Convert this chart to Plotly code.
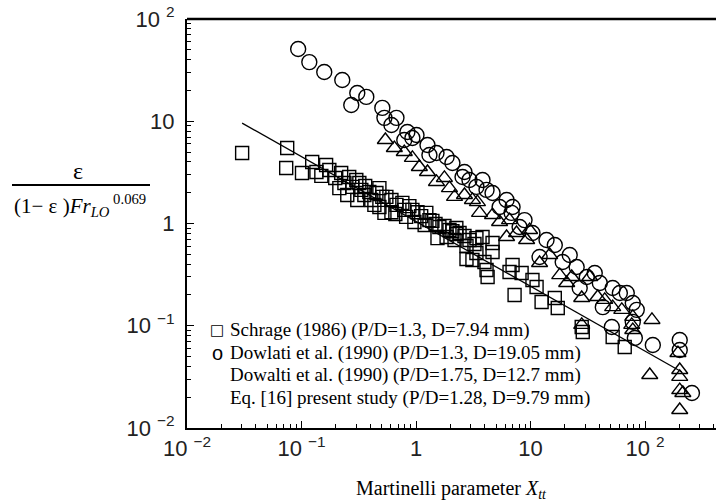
import plotly.graph_objects as go

# Schrage (1986) (P/D=1.3, D=7.94 mm) - squares
sq_x = [0.0303, 0.075, 0.0735, 0.101, 0.124, 0.135, 0.149, 0.164, 0.175, 0.197,
        0.222, 0.237, 0.261, 0.214, 0.278, 0.301, 0.32, 0.333, 0.307, 0.36,
        0.391, 0.451, 0.479, 0.508, 0.551, 0.479, 0.53, 0.61, 0.675, 0.76,
        0.79, 0.875, 0.93, 0.82, 1.03, 1.11, 1.23, 1.31, 1.39, 1.48,
        1.60, 1.77, 1.54, 1.96, 2.08, 2.25, 2.40, 2.65, 2.93, 3.37,
        3.11, 3.81, 3.24, 4.66, 4.66, 4.13, 4.22, 3.96, 6.56, 8.36,
        10.4, 11.3, 7.26, 12.5, 16.3, 17.3, 28.0, 28.6, 52.2, 66.5,
        0.66, 0.968, 0.251, 0.407, 1.19, 2.17, 2.76, 2.76, 3.37, 2.25,
        0.433, 0.61, 0.354, 1.85, 6.97]
sq_y = [4.89, 5.47, 3.49, 3.12, 3.99, 3.19, 2.92, 3.73, 3.34, 2.79,
        3.12, 2.49, 2.85, 2.22, 2.28, 2.66, 2.49, 2.13, 1.70, 2.33,
        2.03, 1.99, 2.22, 1.82, 1.82, 1.45, 1.27, 1.70, 1.52, 1.59,
        1.36, 1.48, 1.36, 1.16, 1.29, 1.18, 1.27, 1.08, 1.06, 0.99,
        0.925, 0.946, 0.72, 0.863, 0.84, 0.789, 0.807, 0.755, 0.69, 0.72,
        0.44, 0.738, 0.63, 0.644, 0.526, 0.351, 0.30, 0.42, 0.336, 0.328,
        0.28, 0.239, 0.20, 0.171, 0.187, 0.149, 0.0973, 0.0869, 0.0776, 0.0619,
        1.24, 1.035, 1.90, 1.70, 0.966, 0.69, 0.603, 0.45, 0.514, 0.904,
        1.52, 1.29, 1.90, 0.738, 0.393]

# Dowlati et al. (1990) (P/D=1.3, D=19.05 mm) - circles
ci_x = [0.0935, 0.117, 0.158, 0.227, 0.307, 0.368, 0.272, 0.508, 0.53, 0.675,
        0.61, 0.841, 1.01, 0.93, 1.26, 1.51, 1.85, 2.08, 2.65, 2.55,
        3.37, 4.13, 4.66, 5.37, 6.97, 6.84, 8.03, 10.4, 13.8, 12.0,
        19.1, 25.3, 31.0, 40.3, 52.2, 69.3, 26.9, 51.3, 78.2, 84.7,
        78.2, 81.5, 117, 201, 201, 257, 42.8, 0.79, 1.31, 2.93,
        8.87, 16.3, 22.0, 36.4, 60.3, 6.18, 3.81]
ci_y = [50.9, 37.9, 30.3, 25.3, 18.9, 17.3, 14.4, 13.5, 10.8, 10.8,
        9.19, 7.85, 7.34, 6.86, 5.86, 4.89, 4.47, 3.91, 3.19, 2.85,
        2.28, 2.13, 1.99, 1.45, 1.45, 1.27, 0.925, 0.807, 0.69, 0.47,
        0.42, 0.376, 0.30, 0.262, 0.234, 0.209, 0.234, 0.0973, 0.167, 0.143,
        0.109, 0.0759, 0.0649, 0.0726, 0.058, 0.022, 0.152, 6.56, 4.68, 2.66,
        1.08, 0.617, 0.492, 0.328, 0.209, 1.70, 2.66]

# Dowalti et al. (1990) (P/D=1.75, D=12.7 mm) - triangles
tr_x = [0.54, 0.647, 0.79, 0.93, 1.07, 1.26, 1.51, 1.96, 2.17, 1.77,
        3.11, 3.59, 4.66, 6.56, 7.55, 3.44, 6.18, 12.0, 18.0, 22.9,
        32.9, 28.0, 38.6, 52.2, 62.7, 78.2, 115, 76.6, 28.0, 110,
        201, 201, 201, 201, 214, 194, 78.2, 2.65, 5.37, 9.25,
        14.7, 20.7, 44.5, 9.82]
tr_y = [6.56, 5.47, 5.0, 4.38, 3.57, 3.19, 2.55, 2.22, 1.82, 2.79,
        1.70, 1.27, 1.21, 1.08, 0.807, 1.62, 0.738, 0.411, 0.313, 0.30,
        0.30, 0.187, 0.191, 0.152, 0.143, 0.122, 0.114, 0.102, 0.102, 0.033,
        0.0369, 0.0316, 0.0235, 0.015, 0.022, 0.0541, 0.0908, 1.90, 1.035, 0.69,
        0.492, 0.262, 0.179, 0.863]

# Eq. [16] present study - straight line endpoints
line_x = [0.0303, 210]
line_y = [9.6, 0.0353]

x_tickvals = [0.01, 0.1, 1, 10, 100]
x_ticktext = ["10 <sup>\u22122</sup>", "10 <sup>\u22121</sup>", "1", "10", "10 <sup>2</sup>"]
y_tickvals = [0.01, 0.1, 1, 10, 100]
y_ticktext = ["10 <sup>\u22122</sup>", "10 <sup>\u22121</sup>", "1", "10", "10 <sup>2</sup>"]

legend_lines = [
    "Schrage (1986) (P/D=1.3, D=7.94 mm)",
    "Dowlati et al. (1990) (P/D=1.3, D=19.05 mm)",
    "Dowalti et al. (1990) (P/D=1.75, D=12.7 mm)",
    "Eq. [16] present study (P/D=1.28, D=9.79 mm)",
]

# minor tick positions (2..9 within each decade)
minor_vals = [m * d for d in (0.01, 0.1, 1, 10, 100) for m in range(2, 10)]

W, H = 716, 504
L, T = 187, 19
BOT, RIGHT = 428, 716
B, R = H - BOT, W - RIGHT
pw, ph = RIGHT - L, BOT - T

def px(xp):
    return (xp - L) / pw

def py(yp):
    return (BOT - yp) / ph

fig = go.Figure()
fig.add_trace(go.Scatter(x=line_x, y=line_y, mode="lines",
                         line=dict(color="black", width=1.3), showlegend=False))
fig.add_trace(go.Scatter(x=sq_x, y=sq_y, mode="markers",
                         marker=dict(symbol="square-open", size=13, color="black",
                                     line=dict(width=1.4)), showlegend=False))
fig.add_trace(go.Scatter(x=ci_x, y=ci_y, mode="markers",
                         marker=dict(symbol="circle-open", size=15, color="black",
                                     line=dict(width=1.4)), showlegend=False))
fig.add_trace(go.Scatter(x=tr_x, y=tr_y, mode="markers",
                         marker=dict(symbol="triangle-up-open", size=14, color="black",
                                     line=dict(width=1.4)), showlegend=False))

tick_font = dict(family="Liberation Sans, Arial, sans-serif", size=22, color="#222")
serif = "Liberation Serif, Times New Roman, serif"

fig.update_xaxes(type="log", range=[-2, 2.62], tickvals=x_tickvals, ticktext=x_ticktext,
                 ticks="inside", ticklen=7, tickwidth=1.2, tickcolor="black",
                 showline=True, linecolor="black", linewidth=2,
                 showgrid=False, zeroline=False, tickfont=tick_font,
                 minor=dict(tickmode="array", tickvals=minor_vals, ticks="inside",
                            ticklen=4, tickwidth=1, tickcolor="black", showgrid=False))
fig.update_yaxes(type="log", range=[-2, 2], tickvals=y_tickvals, ticktext=y_ticktext,
                 ticks="inside", ticklen=7, tickwidth=1.2, tickcolor="black",
                 showline=True, linecolor="black", linewidth=2,
                 showgrid=False, zeroline=False, tickfont=tick_font,
                 ticklabelstandoff=6,
                 minor=dict(tickmode="array", tickvals=minor_vals, ticks="inside",
                            ticklen=4, tickwidth=1, tickcolor="black", showgrid=False))

ann = []
leg_y = [330, 353, 375, 398]
for txt, yy in zip(legend_lines, leg_y):
    ann.append(dict(x=px(228), y=py(yy), xref="paper", yref="paper", text=txt,
                    showarrow=False, xanchor="left", yanchor="middle",
                    font=dict(family=serif, size=19, color="black")))
# legend symbols
ann.append(dict(x=px(217), y=py(330), xref="paper", yref="paper", text="\u25a1",
                xanchor="center", yanchor="middle",
                showarrow=False, font=dict(family="DejaVu Sans", size=15, color="black")))
ann.append(dict(x=px(217), y=py(353), xref="paper", yref="paper", text="o",
                xanchor="center", yanchor="middle",
                showarrow=False, font=dict(family="Liberation Sans", size=20, color="black")))

# y-axis title as a fraction
ann.append(dict(x=px(78), y=py(171), xref="paper", yref="paper", text="\u03b5",
                xanchor="center", yanchor="middle",
                showarrow=False, font=dict(family=serif, size=24, color="black")))
ann.append(dict(x=px(12), y=py(205), xref="paper", yref="paper", xanchor="left",
                yanchor="middle",
                text="(1\u2212 \u03b5 )<i>Fr</i><sub><i>LO</i></sub><sup> 0.069</sup>",
                showarrow=False, font=dict(family=serif, size=21, color="black")))
# x-axis title
ann.append(dict(x=px(451), y=py(489), xref="paper", yref="paper",
                xanchor="center", yanchor="middle",
                text="Martinelli parameter <i>X</i><sub><i>tt</i></sub>",
                showarrow=False, font=dict(family=serif, size=20, color="black")))

shapes = [
    dict(type="line", xref="paper", yref="paper",
         x0=px(12), x1=px(150), y0=py(185), y1=py(185),
         line=dict(color="black", width=2)),
    dict(type="line", xref="paper", yref="paper",
         x0=0, x1=1, y0=1, y1=1, line=dict(color="black", width=2.5)),
]

fig.update_layout(width=W, height=H, margin=dict(l=L, r=R, t=T, b=B),
                  plot_bgcolor="white", paper_bgcolor="white",
                  annotations=ann, shapes=shapes)

fig.write_html("out.html", config={"displayModeBar": False},
               post_script="document.body.style.margin='0';document.body.style.overflow='hidden';")
